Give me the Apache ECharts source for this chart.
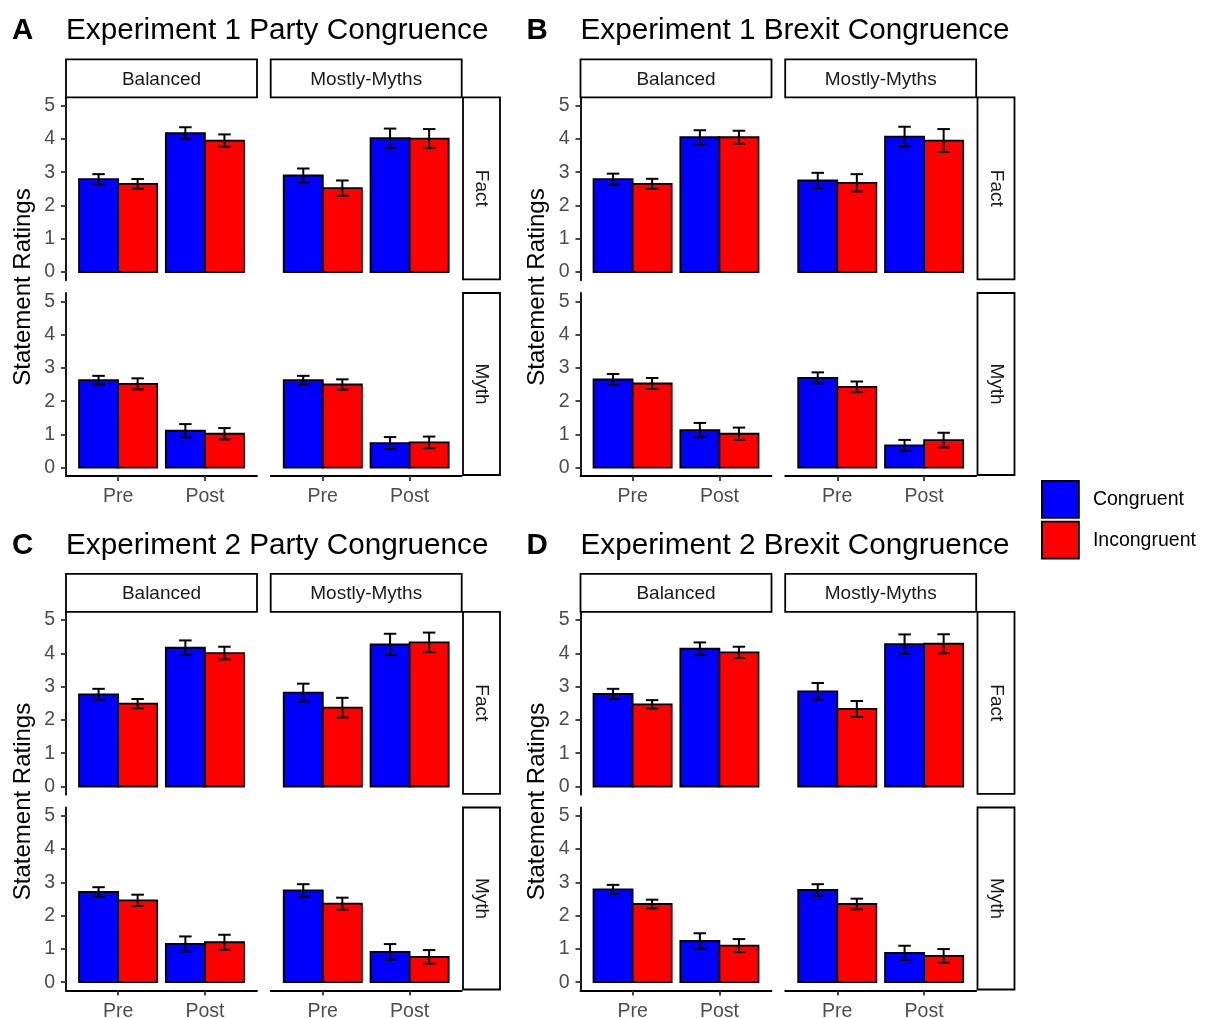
<!DOCTYPE html>
<html>
<head>
<meta charset="utf-8">
<script src="https://cdn.jsdelivr.net/npm/echarts@6/dist/echarts.min.js"></script>
<style>
  html, body { margin: 0; padding: 0; background: #fff; }
  #chart { width: 1207px; height: 1018px; }
</style>
</head>
<body>
<div id="chart"></div>
<script>
const phases = ['Pre', 'Post'];
const conditions = ['Balanced', 'Mostly-Myths'];
const statementTypes = ['Fact', 'Myth'];
const groups = ['Congruent', 'Incongruent'];
const groupColors = ['#0000FF', '#FF0000'];
const yTicks = [0, 1, 2, 3, 4, 5];
const panelLetters = ['A', 'B', 'C', 'D'];
const panelTitles = [
  'Experiment 1 Party Congruence',
  'Experiment 1 Brexit Congruence',
  'Experiment 2 Party Congruence',
  'Experiment 2 Brexit Congruence'
];

// facet order: Fact/Balanced, Fact/Mostly-Myths, Myth/Balanced, Myth/Mostly-Myths -> [Pre, Post]
const e1PartyCong = [[2.79, 4.17], [2.90, 4.02], [2.63, 1.11], [2.63, 0.74]];
const e1PartyCongErr = [[0.15, 0.18], [0.21, 0.29], [0.13, 0.20], [0.13, 0.18]];
const e1PartyIncong = [[2.65, 3.95], [2.52, 4.01], [2.52, 1.02], [2.50, 0.76]];
const e1PartyIncongErr = [[0.145, 0.185], [0.23, 0.285], [0.165, 0.17], [0.155, 0.175]];

const e1BrexitCong = [[2.79, 4.05], [2.75, 4.07], [2.65, 1.13], [2.70, 0.67]];
const e1BrexitCongErr = [[0.165, 0.21], [0.23, 0.295], [0.165, 0.215], [0.165, 0.165]];
const e1BrexitIncong = [[2.65, 4.05], [2.68, 3.95], [2.53, 1.02], [2.43, 0.83]];
const e1BrexitIncongErr = [[0.15, 0.195], [0.26, 0.345], [0.165, 0.185], [0.16, 0.22]];

const e2PartyCong = [[2.77, 4.17], [2.82, 4.27], [2.71, 1.15], [2.76, 0.91]];
const e2PartyCongErr = [[0.165, 0.22], [0.27, 0.32], [0.145, 0.225], [0.185, 0.235]];
const e2PartyIncong = [[2.49, 4.01], [2.37, 4.33], [2.46, 1.20], [2.36, 0.76]];
const e2PartyIncongErr = [[0.14, 0.19], [0.295, 0.295], [0.17, 0.225], [0.18, 0.205]];

const e2BrexitCong = [[2.78, 4.14], [2.86, 4.28], [2.79, 1.24], [2.77, 0.88]];
const e2BrexitCongErr = [[0.155, 0.19], [0.25, 0.29], [0.135, 0.23], [0.175, 0.215]];
const e2BrexitIncong = [[2.47, 4.03], [2.33, 4.29], [2.35, 1.10], [2.35, 0.79]];
const e2BrexitIncongErr = [[0.125, 0.17], [0.24, 0.285], [0.13, 0.195], [0.16, 0.205]];

const panels = [
  { means: [e1PartyCong, e1PartyIncong], errs: [e1PartyCongErr, e1PartyIncongErr] },
  { means: [e1BrexitCong, e1BrexitIncong], errs: [e1BrexitCongErr, e1BrexitIncongErr] },
  { means: [e2PartyCong, e2PartyIncong], errs: [e2PartyCongErr, e2PartyIncongErr] },
  { means: [e2BrexitCong, e2BrexitIncong], errs: [e2BrexitCongErr, e2BrexitIncongErr] }
];

// layout (panel A; the others are shifted)
const FONT = 'Liberation Sans, Arial, sans-serif';
const PANEL_DX = 514.5;
const PANEL_DY = 514.5;
const COL_LEFT = [66, 270.7];
const COL_W = 191;
const ROW_TOP = [97.3, 293];
const ROW_H = 183;
const STRIP_TOP = 59.3;
const STRIP_H = 38;
const RSTRIP_LEFT = 463;
const RSTRIP_W = 37;
const RSTRIP_H = 182;
const LINE_W = 1.8;
const BAR_HALF = 0.225;
const CAP_HALF = 0.072;

const chart = echarts.init(document.getElementById('chart'));

function renderBar(side) {
  return function (params, api) {
    const x = api.value(0) + side * BAR_HALF;
    const mean = api.value(1);
    const err = api.value(2);
    const tl = api.coord([x - BAR_HALF, mean]);
    const br = api.coord([x + BAR_HALF, 0]);
    const hi = api.coord([x, mean + err]);
    const lo = api.coord([x, mean - err]);
    const capL = api.coord([x - CAP_HALF, mean])[0];
    const capR = api.coord([x + CAP_HALF, mean])[0];
    const lineStyle = { stroke: '#000', lineWidth: 2 };
    return {
      type: 'group',
      children: [
        {
          type: 'rect',
          shape: { x: tl[0], y: tl[1], width: br[0] - tl[0], height: br[1] - tl[1] },
          style: { fill: api.visual('color'), stroke: '#000', lineWidth: LINE_W }
        },
        { type: 'line', shape: { x1: hi[0], y1: hi[1], x2: lo[0], y2: lo[1] }, style: lineStyle },
        { type: 'line', shape: { x1: capL, y1: hi[1], x2: capR, y2: hi[1] }, style: lineStyle },
        { type: 'line', shape: { x1: capL, y1: lo[1], x2: capR, y2: lo[1] }, style: lineStyle }
      ]
    };
  };
}

const grids = [];
const xAxes = [];
const yAxes = [];
const series = [];
const graphics = [];

panels.forEach((panel, p) => {
  const dx = (p % 2) * PANEL_DX;
  const dy = Math.floor(p / 2) * PANEL_DY;

  graphics.push({
    type: 'text', x: 12 + dx, y: 31 + dy,
    style: { text: panelLetters[p], font: 'bold 29.5px ' + FONT, fill: '#000', verticalAlign: 'middle' }
  });
  graphics.push({
    type: 'text', x: 66 + dx, y: 31 + dy,
    style: { text: panelTitles[p], font: '29.7px ' + FONT, fill: '#000', verticalAlign: 'middle' }
  });
  graphics.push({
    type: 'text', x: 23 + dx, y: 287 + dy, rotation: Math.PI / 2,
    style: { text: 'Statement Ratings', font: '24px ' + FONT, fill: '#000', align: 'center', verticalAlign: 'middle' }
  });

  conditions.forEach((cond, c) => {
    graphics.push({
      type: 'rect',
      shape: { x: COL_LEFT[c] + dx, y: STRIP_TOP + dy, width: COL_W, height: STRIP_H },
      style: { fill: '#fff', stroke: '#000', lineWidth: LINE_W }
    });
    graphics.push({
      type: 'text', x: COL_LEFT[c] + COL_W / 2 + dx, y: STRIP_TOP + STRIP_H / 2 + dy + 1,
      style: { text: cond, font: '19px ' + FONT, fill: '#1A1A1A', align: 'center', verticalAlign: 'middle' }
    });
  });

  statementTypes.forEach((st, r) => {
    graphics.push({
      type: 'rect',
      shape: { x: RSTRIP_LEFT + dx, y: ROW_TOP[r] + dy, width: RSTRIP_W, height: RSTRIP_H },
      style: { fill: '#fff', stroke: '#000', lineWidth: LINE_W }
    });
    graphics.push({
      type: 'text', x: RSTRIP_LEFT + RSTRIP_W / 2 + dx, y: ROW_TOP[r] + RSTRIP_H / 2 + dy, rotation: -Math.PI / 2,
      style: { text: st, font: '19px ' + FONT, fill: '#1A1A1A', align: 'center', verticalAlign: 'middle' }
    });

    conditions.forEach((cond, c) => {
      const g = grids.length;
      const facet = r * 2 + c;
      grids.push({
        left: COL_LEFT[c] + dx, top: ROW_TOP[r] + dy, width: COL_W, height: ROW_H,
        outerBoundsMode: 'none'
      });
      xAxes.push({
        gridIndex: g, type: 'value', min: 0.4, max: 2.6,
        show: r === 1,
        axisLine: { onZero: false, lineStyle: { color: '#000', width: LINE_W } },
        axisTick: { customValues: [1, 2], length: 5, lineStyle: { color: '#333', width: LINE_W } },
        axisLabel: {
          customValues: [1, 2], formatter: v => phases[Math.round(v) - 1],
          color: '#4D4D4D', fontSize: 19.5, fontFamily: FONT, margin: 11
        },
        splitLine: { show: false }
      });
      yAxes.push({
        gridIndex: g, type: 'value', min: -0.25, max: 5.25,
        show: c === 0,
        axisLine: { show: true, onZero: false, lineStyle: { color: '#000', width: LINE_W } },
        axisTick: { show: true, customValues: yTicks, length: 5, lineStyle: { color: '#333', width: LINE_W } },
        axisLabel: {
          customValues: yTicks, color: '#4D4D4D', fontSize: 19.5, fontFamily: FONT, margin: 11
        },
        splitLine: { show: false }
      });
      groups.forEach((grp, k) => {
        series.push({
          type: 'custom',
          name: grp,
          xAxisIndex: g,
          yAxisIndex: g,
          itemStyle: { color: groupColors[k] },
          encode: { x: 0, y: 1 },
          renderItem: renderBar(k === 0 ? -1 : 1),
          data: phases.map((ph, i) => [i + 1, panel.means[k][facet][i], panel.errs[k][facet][i]])
        });
      });
    });
  });
});

chart.setOption({
  animation: false,
  backgroundColor: '#fff',
  legend: {
    orient: 'vertical',
    left: 1036,
    top: 475,
    itemWidth: 37,
    itemHeight: 37,
    itemGap: 2,
    icon: 'rect',
    data: groups,
    itemStyle: { borderColor: '#000', borderWidth: LINE_W },
    textStyle: { fontSize: 19.5, color: '#000', fontFamily: FONT, padding: [0, 0, 0, 9] }
  },
  grid: grids,
  xAxis: xAxes,
  yAxis: yAxes,
  series: series,
  graphic: { elements: graphics }
});
</script>
</body>
</html>
